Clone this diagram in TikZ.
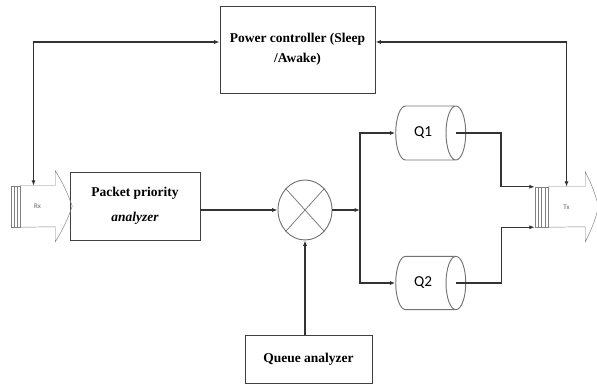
\documentclass[tikz,border=0pt]{standalone}
\usepackage{fontspec}
\setmainfont{Liberation Serif}
\newfontfamily\lblfont{Carlito}
\usetikzlibrary{shapes.geometric,arrows.meta}
\begin{document}
\begin{tikzpicture}
        \tikzset{
            blk/.style={rectangle, draw=black!75, line width=0.8pt, align=center,
            font=\fontsize{11.5}{17}\selectfont\bfseries},
            mx/.style={ellipse, draw=black!55, line width=0.8pt, minimum width=1.62cm, minimum height=1.8cm},
            cyl/.style={cylinder, shape aspect=1, draw=black!55, line width=0.8pt,
            font=\lblfont\fontsize{13}{13}\selectfont},
            bdy/.style={rectangle, inner sep=0pt, font=\lblfont\fontsize{6}{6}\selectfont, text=black!60},
            stp/.style={rectangle, draw=black!50, inner sep=0pt},
            c1/.style={{Latex[length=1.6mm]}-{Latex[length=1.6mm]}, line width=1.2pt, black!80},
            c2/.style={-{Latex[length=1.6mm]}, line width=1.2pt, black!80}
            }
            \useasboundingbox (0,0) rectangle (17.91,11.55);

            \node[blk, minimum width=4.65cm, minimum height=2.61cm] (pc) at (8.925,10.065) {Power controller (Sleep\\/Awake)};
            \node[blk, minimum width=3.9cm, minimum height=2.04cm, font=\fontsize{11.5}{21}\selectfont\bfseries] (pa) at (4.05,5.37) {Packet priority\\\textit{analyzer}};
            \node[mx] (mx) at (9.15,5.25) {};
            \node[blk, minimum width=3.81cm, minimum height=1.44cm] (qa) at (9.255,0.78) {Queue analyzer};
            \node[cyl, minimum height=2.1cm, minimum width=1.62cm] (q1) at (12.69,7.56) {Q1};
            \node[cyl, minimum height=2.1cm, minimum width=1.6cm] (q2) at (12.69,3.06) {Q2};
            \coordinate (sp) at (10.8,5.25);

            % Rx arrow
            \node[bdy, minimum width=1.05cm, minimum height=1.23cm] (rx) at (1.125,5.355) {Rx};
            \node[stp, minimum width=0.27cm, minimum height=1.23cm] (rs) at (0.465,5.355) {};
            \draw[black!50] (rx.north west) -- (rx.north east) -- ++(0,0.45) to[bend left=6] ++(0.51,-1.065)
                to[bend left=6] ++(-0.51,-1.065) -- ++(0,0.45) -- (rx.south west);
            \draw[black!50] ([xshift=0.09cm]rs.north west) -- ([xshift=0.09cm]rs.south west);
            \draw[black!50] ([xshift=0.18cm]rs.north west) -- ([xshift=0.18cm]rs.south west);

            % Tx arrow
            \node[bdy, minimum width=1.11cm, minimum height=1.2cm] (tx) at (16.995,5.34) {Tx};
            \node[stp, minimum width=0.39cm, minimum height=1.2cm] (ts) at (16.245,5.34) {};
            \draw[black!50] (tx.north west) -- (tx.north east) -- ++(0,0.45) to[bend left=6] ++(0.4,-1.05)
                to[bend left=6] ++(-0.4,-1.05) -- ++(0,0.45) -- (tx.south west);
            \draw[black!50] ([xshift=0.1cm]ts.north west) -- ([xshift=0.1cm]ts.south west);
            \draw[black!50] ([xshift=0.2cm]ts.north west) -- ([xshift=0.2cm]ts.south west);
            \draw[black!50] ([xshift=0.3cm]ts.north west) -- ([xshift=0.3cm]ts.south west);

            \draw[black!55, line width=0.6pt] (mx.north west) -- (mx.south east);
            \draw[black!55, line width=0.6pt] (mx.north east) -- (mx.south west);

            \draw[c1] ([xshift=-1.2mm]rx.north) |- ([yshift=2.25mm]pc.west);
            \draw[c1] ([yshift=2.25mm]pc.east) -| (tx.north);
            \draw[c2] (mx.west -| pa.east) -- (mx.west);
            \draw[c2] (mx.south |- qa.north) -- (mx.south);
            \draw[c2] (mx.east) -- (sp);
            \draw[c2] (sp) |- (q1.west);
            \draw[c2] (sp) |- (q2.west);
            \draw[c2] ([xshift=-3mm]q1.east) -- ++(1.35,0) |- (ts.north west);
            \draw[c2] ([xshift=-3mm]q2.east) -- ++(1.35,0) |- (ts.south west);
        \end{tikzpicture}
\end{document}
